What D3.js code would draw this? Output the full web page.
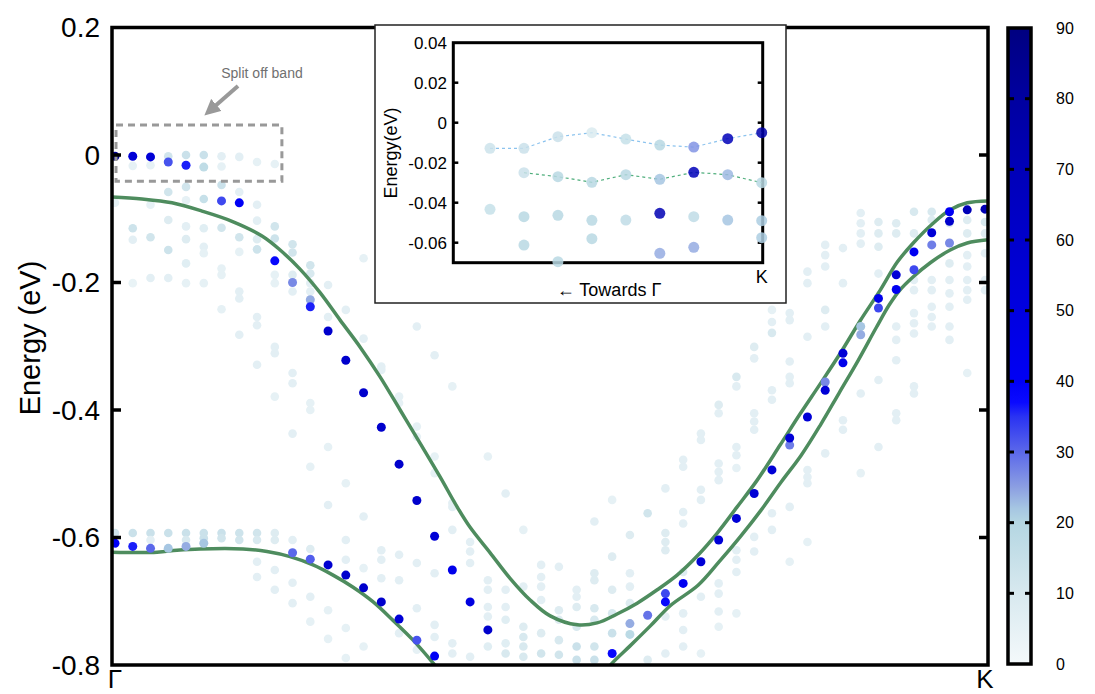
<!DOCTYPE html>
<html>
<head>
<meta charset="utf-8">
<script src="https://cdn.jsdelivr.net/npm/d3@7/dist/d3.min.js"></script>
<style>
  body { margin: 0; background: #fff; }
  svg { display: block; font-family: "Liberation Sans", Arial, Helvetica, sans-serif; }
</style>
</head>
<body>
<script>
//tick labels
var yTicks = [0.2, 0, -0.2, -0.4, -0.6, -0.8];
var yTickLabels = ["0.2", "0", "-0.2", "-0.4", "-0.6", "-0.8"];
var kPoints = [0, 49];
var kLabels = ["\u0393", "K"];
var weightTicks = [0, 10, 20, 30, 40, 50, 60, 70, 80, 90];

//colour map stops: weight -> colour
var cStops = [0, 10, 20, 22, 25, 30, 35, 37, 40, 50, 60, 70, 80, 90];
var cColors = ["#f4f9fb", "#d8e9ef", "#b4d6e2", "#a6c6e2", "#8c9fe2", "#5b68ea", "#2a33f2",
               "#0a0aff", "#0000f5", "#0000e0", "#0000cc", "#0000b8", "#0000a0", "#000080"];

// dots are [k index, energy (eV), weight]
var splitOffDots = [
  [0, -0.002, 85], [1, -0.002, 55], [2, -0.003, 55], [3, -0.011, 32], [4, -0.016, 36], [5, -0.019, 17]
];

var lightHoleDots = [
  [6, -0.072, 33], [7, -0.075, 40], [9, -0.166, 38], [10, -0.200, 27], [11, -0.227, 24], [11, -0.238, 36],
  [12, -0.276, 60], [13, -0.322, 60], [14, -0.373, 60], [15, -0.427, 60], [16, -0.485, 60], [17, -0.542, 60],
  [18, -0.598, 55], [19, -0.651, 45], [20, -0.701, 50], [21, -0.745, 60]
];

var heavyHoleDots = [
  [0, -0.609, 40], [1, -0.614, 36], [2, -0.617, 30], [3, -0.617, 22], [4, -0.614, 24], [5, -0.609, 22],
  [10, -0.624, 30], [11, -0.634, 31], [12, -0.643, 58], [13, -0.659, 60], [14, -0.679, 60], [15, -0.701, 60],
  [16, -0.728, 55], [17, -0.761, 32], [18, -0.786, 40]
];

var rightBandDots = [
  [28, -0.782, 38], [29, -0.735, 24], [29, -0.752, 18], [30, -0.722, 29], [31, -0.688, 33], [31, -0.701, 38],
  [32, -0.672, 42], [33, -0.638, 55], [34, -0.604, 55], [35, -0.570, 55], [36, -0.531, 55], [37, -0.494, 55],
  [38, -0.444, 55], [38, -0.455, 28], [39, -0.411, 55], [40, -0.356, 27], [40, -0.369, 55], [41, -0.311, 55],
  [41, -0.326, 45], [42, -0.269, 22], [42, -0.282, 24], [43, -0.225, 45], [43, -0.240, 33], [44, -0.188, 55],
  [44, -0.211, 42], [45, -0.152, 42], [45, -0.180, 33], [46, -0.122, 55], [46, -0.141, 28], [47, -0.089, 40],
  [47, -0.104, 60], [47, -0.138, 27], [48, -0.086, 70], [49, -0.085, 72]
];

var faintDots = [
  [0, -0.075, 5], [0, -0.593, 12],
  [1, -0.017, 5], [1, -0.115, 13], [1, -0.133, 6], [1, -0.201, 4], [1, -0.593, 14],
  [2, -0.016, 5], [2, -0.078, 5], [2, -0.129, 12], [2, -0.193, 6], [2, -0.593, 14], [2, -0.604, 6],
  [3, -0.002, 12], [3, -0.058, 12], [3, -0.102, 8], [3, -0.149, 13], [3, -0.193, 6], [3, -0.593, 14],
  [4, 0.000, 14], [4, -0.050, 12], [4, -0.071, 5], [4, -0.112, 6], [4, -0.132, 8], [4, -0.170, 7], [4, -0.201, 5], [4, -0.593, 14], [4, -0.604, 10],
  [5, 0.000, 14], [5, -0.069, 15], [5, -0.115, 7], [5, -0.144, 6], [5, -0.154, 5], [5, -0.201, 5], [5, -0.593, 14], [5, -0.601, 14],
  [6, -0.002, 6], [6, -0.018, 5], [6, -0.047, 14], [6, -0.114, 12], [6, -0.178, 5], [6, -0.188, 5], [6, -0.242, 5], [6, -0.593, 14], [6, -0.601, 12],
  [7, -0.003, 6], [7, -0.058, 6], [7, -0.129, 12], [7, -0.152, 5], [7, -0.214, 6], [7, -0.225, 6], [7, -0.282, 6], [7, -0.593, 13], [7, -0.604, 12],
  [8, -0.011, 5], [8, -0.078, 6], [8, -0.103, 6], [8, -0.132, 8], [8, -0.148, 13], [8, -0.254, 6], [8, -0.267, 6], [8, -0.329, 6], [8, -0.593, 12], [8, -0.604, 10], [8, -0.638, 6], [8, -0.662, 6],
  [9, -0.014, 5], [9, -0.112, 12], [9, -0.131, 13], [9, -0.188, 5], [9, -0.201, 5], [9, -0.301, 6], [9, -0.311, 6], [9, -0.379, 5], [9, -0.593, 8], [9, -0.604, 8], [9, -0.651, 6], [9, -0.682, 6],
  [10, -0.140, 12], [10, -0.153, 12], [10, -0.188, 8], [10, -0.214, 6], [10, -0.342, 6], [10, -0.358, 6], [10, -0.437, 6], [10, -0.604, 6], [10, -0.671, 6], [10, -0.703, 6],
  [11, -0.173, 12], [11, -0.186, 10], [11, -0.201, 6], [11, -0.214, 6], [11, -0.389, 5], [11, -0.400, 5], [11, -0.489, 5], [11, -0.618, 8], [11, -0.693, 6], [11, -0.732, 5],
  [12, -0.204, 6], [12, -0.254, 6], [12, -0.458, 5], [12, -0.549, 6], [12, -0.714, 5], [12, -0.759, 5],
  [13, -0.243, 6], [13, -0.515, 5], [13, -0.604, 6], [13, -0.635, 6], [13, -0.742, 5], [13, -0.789, 5],
  [14, -0.162, 5], [14, -0.288, 6], [14, -0.567, 6], [14, -0.648, 5], [14, -0.771, 5],
  [15, -0.332, 6], [15, -0.337, 6], [15, -0.620, 6], [15, -0.635, 6], [15, -0.664, 6],
  [16, -0.222, 5], [16, -0.379, 5], [16, -0.389, 5], [16, -0.627, 6], [16, -0.667, 6], [16, -0.750, 6],
  [17, -0.269, 6], [17, -0.426, 5], [17, -0.442, 5], [17, -0.640, 6], [17, -0.711, 6], [17, -0.776, 5],
  [18, -0.314, 6], [18, -0.473, 5], [18, -0.499, 5], [18, -0.656, 6], [18, -0.737, 6], [18, -0.756, 6],
  [19, -0.363, 5], [19, -0.546, 6], [19, -0.552, 6], [19, -0.588, 6], [19, -0.766, 6], [19, -0.782, 6],
  [20, -0.607, 6], [20, -0.622, 6], [20, -0.640, 6], [20, -0.787, 6],
  [21, -0.473, 5], [21, -0.667, 6], [21, -0.682, 6], [21, -0.709, 6], [21, -0.724, 6], [21, -0.771, 7],
  [22, -0.531, 6], [22, -0.682, 6], [22, -0.709, 6], [22, -0.729, 7], [22, -0.766, 7], [22, -0.782, 10],
  [23, -0.588, 5], [23, -0.677, 6], [23, -0.740, 8], [23, -0.756, 10], [23, -0.771, 10], [23, -0.787, 10],
  [24, -0.643, 6], [24, -0.662, 6], [24, -0.677, 6], [24, -0.698, 6], [24, -0.750, 8], [24, -0.782, 12],
  [25, -0.646, 6], [25, -0.714, 8], [25, -0.729, 8], [25, -0.761, 10], [25, -0.784, 12],
  [26, -0.682, 6], [26, -0.693, 6], [26, -0.709, 8], [26, -0.740, 10], [26, -0.771, 14], [26, -0.792, 14],
  [27, -0.575, 6], [27, -0.656, 8], [27, -0.667, 8], [27, -0.711, 10], [27, -0.729, 10], [27, -0.771, 12], [27, -0.792, 14],
  [28, -0.541, 5], [28, -0.630, 8], [28, -0.682, 8], [28, -0.719, 10], [28, -0.750, 14],
  [29, -0.596, 8], [29, -0.656, 6], [29, -0.677, 6], [29, -0.703, 8],
  [30, -0.562, 12], [30, -0.792, 8],
  [31, -0.523, 6], [31, -0.593, 8], [31, -0.607, 8], [31, -0.620, 8], [31, -0.724, 6], [31, -0.782, 6],
  [32, -0.478, 6], [32, -0.489, 6], [32, -0.560, 6], [32, -0.578, 6], [32, -0.654, 8], [32, -0.719, 6], [32, -0.745, 6], [32, -0.771, 6],
  [33, -0.437, 6], [33, -0.447, 6], [33, -0.525, 6], [33, -0.541, 6], [33, -0.693, 6], [33, -0.782, 5],
  [34, -0.392, 8], [34, -0.405, 6], [34, -0.484, 6], [34, -0.497, 6], [34, -0.510, 6], [34, -0.672, 6], [34, -0.688, 6], [34, -0.716, 6], [34, -0.740, 5],
  [35, -0.348, 10], [35, -0.363, 6], [35, -0.458, 6], [35, -0.471, 6], [35, -0.491, 5], [35, -0.620, 6], [35, -0.635, 6], [35, -0.654, 6], [35, -0.719, 5],
  [36, -0.301, 8], [36, -0.319, 6], [36, -0.405, 6], [36, -0.418, 6], [36, -0.431, 6], [36, -0.599, 6], [36, -0.622, 6],
  [37, -0.243, 5], [37, -0.262, 6], [37, -0.279, 10], [37, -0.369, 6], [37, -0.384, 6], [37, -0.562, 6], [37, -0.588, 6],
  [38, -0.248, 6], [38, -0.259, 6], [38, -0.324, 6], [38, -0.348, 6], [38, -0.358, 6], [38, -0.552, 6], [38, -0.638, 5],
  [39, -0.183, 6], [39, -0.201, 6], [39, -0.285, 6], [39, -0.494, 6], [39, -0.505, 6], [39, -0.515, 6], [39, -0.607, 5],
  [40, -0.141, 6], [40, -0.157, 6], [40, -0.175, 6], [40, -0.243, 8], [40, -0.269, 6], [40, -0.468, 6],
  [41, -0.146, 6], [41, -0.201, 6], [41, -0.416, 6], [41, -0.431, 6],
  [42, -0.091, 6], [42, -0.107, 6], [42, -0.123, 6], [42, -0.139, 6], [42, -0.374, 6], [42, -0.499, 5],
  [43, -0.105, 8], [43, -0.123, 8], [43, -0.144, 8], [43, -0.186, 6], [43, -0.353, 6], [43, -0.458, 6],
  [44, -0.107, 8], [44, -0.123, 8], [44, -0.269, 6], [44, -0.290, 6], [44, -0.322, 6], [44, -0.405, 6], [44, -0.416, 6],
  [45, -0.089, 10], [45, -0.123, 8], [45, -0.196, 6], [45, -0.212, 6], [45, -0.248, 6], [45, -0.264, 6], [45, -0.280, 6], [45, -0.363, 6], [45, -0.374, 6],
  [46, -0.089, 10], [46, -0.102, 8], [46, -0.196, 6], [46, -0.212, 6], [46, -0.238, 6], [46, -0.254, 6], [46, -0.269, 6],
  [47, -0.107, 8], [47, -0.170, 8], [47, -0.196, 6], [47, -0.217, 6], [47, -0.238, 6], [47, -0.269, 6], [47, -0.290, 6],
  [48, -0.102, 8], [48, -0.123, 8], [48, -0.157, 6], [48, -0.175, 6], [48, -0.196, 6], [48, -0.212, 6], [48, -0.227, 6], [48, -0.342, 5],
  [49, -0.105, 10], [49, -0.123, 8], [49, -0.154, 6], [49, -0.196, 6], [49, -0.212, 6]
];

// green model curves, [k, energy]
var upperCurve = [
  [-0.17, -0.066], [1.52, -0.069], [3.21, -0.075], [4.90, -0.088], [6.59, -0.104], [8.28, -0.127],
  [9.30, -0.149], [10.42, -0.179], [11.55, -0.216], [12.68, -0.259], [13.80, -0.301], [14.93, -0.348],
  [16.06, -0.400], [17.18, -0.452], [18.31, -0.505], [19.27, -0.552], [20.0, -0.584], [21.13, -0.624],
  [22.25, -0.664], [23.38, -0.698], [24.51, -0.723], [26.03, -0.737], [27.15, -0.734], [28.28, -0.720],
  [29.41, -0.703], [30.54, -0.682], [31.66, -0.659], [32.79, -0.629], [33.92, -0.593], [35.04, -0.552],
  [36.17, -0.510], [37.46, -0.455], [38.59, -0.406], [39.72, -0.359], [40.85, -0.311], [41.97, -0.260],
  [43.10, -0.212], [44.06, -0.168], [44.96, -0.138], [46.08, -0.107], [47.04, -0.086], [48.0, -0.075], [49.18, -0.072]
];

var heavyHoleCurve = [
  [-0.17, -0.623], [2.37, -0.623], [3.49, -0.620], [4.79, -0.618], [7.21, -0.618], [8.56, -0.622],
  [9.86, -0.630], [11.15, -0.643], [12.28, -0.659], [13.41, -0.678], [14.54, -0.701], [15.66, -0.730],
  [16.79, -0.761], [17.92, -0.797], [18.59, -0.820]
];

var lowerRightCurve = [
  [27.32, -0.820], [28.0, -0.797], [29.01, -0.770], [30.14, -0.739], [31.27, -0.707], [32.84, -0.675],
  [34.03, -0.638], [35.21, -0.599], [36.39, -0.557], [37.52, -0.513], [38.65, -0.471], [39.72, -0.424],
  [40.79, -0.373], [41.86, -0.322], [42.87, -0.271], [43.61, -0.235], [44.17, -0.213], [44.96, -0.191],
  [45.92, -0.169], [47.04, -0.149], [48.0, -0.138], [49.18, -0.133]
];

// inset: points near K, index 0..8 (8 = K)
var insetYTicks = [0.04, 0.02, 0, -0.02, -0.04, -0.06];
var insetYTickLabels = ["0.04", "0.02", "0", "-0.02", "-0.04", "-0.06"];
var insetRow1E = [-0.0128, -0.0128, -0.0070, -0.0050, -0.0082, -0.0112, -0.0122, -0.0080, -0.0050];
var insetRow1W = [13, 14, 14, 9, 15, 19, 26, 70, 75];
var insetRow2K = [1, 2, 3, 4, 5, 6, 7, 8];
var insetRow2E = [-0.0250, -0.0270, -0.0298, -0.0260, -0.0283, -0.0248, -0.0260, -0.0300];
var insetRow2W = [14, 19, 19, 19, 22, 70, 23, 19];
var insetRow3E = [-0.0433, -0.0470, -0.0463, -0.0488, -0.0487, -0.0453, -0.0470, -0.0487, -0.0490];
var insetRow3W = [15, 19, 19, 19, 17, 72, 17, 22, 21];
var insetRow4K = [1, 2, 3, 5, 6, 8];
var insetRow4E = [-0.0612, -0.0695, -0.0580, -0.0653, -0.0623, -0.0575];
var insetRow4W = [19, 19, 19, 24, 24, 21];

var W = 1095, H = 694;
var frame = { left: 112, right: 988, top: 27.5, bottom: 665 };

var svg = d3.select("body").append("svg")
    .attr("width", W)
    .attr("height", H);

var x = d3.scaleLinear().domain([0, 49]).range([frame.left + 3, frame.right - 3]);
var y = d3.scaleLinear().domain([-0.8, 0.2]).range([frame.bottom, frame.top]);
var color = d3.scaleLinear().domain(cStops).range(cColors).interpolate(d3.interpolateRgb);

svg.append("defs").append("clipPath")
    .attr("id", "plotClip")
  .append("rect")
    .attr("x", frame.left)
    .attr("y", frame.top)
    .attr("width", frame.right - frame.left)
    .attr("height", frame.bottom - frame.top);

var plot = svg.append("g").attr("clip-path", "url(#plotClip)");

//faint dots first, strong ones on top
plot.append("g").selectAll("circle")
  .data(faintDots)
  .enter().append("circle")
    .attr("cx", function (d) { return x(d[0]); })
    .attr("cy", function (d) { return y(d[1]); })
    .attr("r", 4.3)
    .style("fill", function (d) { return color(d[2]); });

var line = d3.line()
    .x(function (d) { return x(d[0]); })
    .y(function (d) { return y(d[1]); })
    .curve(d3.curveCatmullRom.alpha(0.5));

[upperCurve, heavyHoleCurve, lowerRightCurve].forEach(function (c) {
  plot.append("path")
    .datum(c)
    .attr("d", line)
    .style("fill", "none")
    .style("stroke", "#4e8c5e")
    .style("stroke-width", 3.5);
});

var strong = splitOffDots.concat(lightHoleDots, heavyHoleDots, rightBandDots)
    .sort(function (a, b) { return a[2] - b[2]; });

plot.append("g").selectAll("circle")
  .data(strong)
  .enter().append("circle")
    .attr("cx", function (d) { return x(d[0]); })
    .attr("cy", function (d) { return y(d[1]); })
    .attr("r", 4.5)
    .style("fill", function (d) { return color(d[2]); });

// split off band annotation
svg.append("rect")
    .attr("x", x(0) + 1)
    .attr("y", y(0.047))
    .attr("width", x(9.4) - x(0) - 1)
    .attr("height", y(-0.041) - y(0.047))
    .style("fill", "none")
    .style("stroke", "#999")
    .style("stroke-width", 3)
    .style("stroke-dasharray", "7,5");

svg.append("defs").append("marker")
    .attr("id", "arrowHead")
    .attr("viewBox", "0 0 10 10")
    .attr("refX", 2)
    .attr("refY", 5)
    .attr("markerWidth", 4)
    .attr("markerHeight", 4)
    .attr("orient", "auto")
  .append("path")
    .attr("d", "M0,0 L10,5 L0,10 z")
    .style("fill", "#999");

svg.append("line")
    .attr("x1", 238).attr("y1", 86)
    .attr("x2", 214).attr("y2", 107)
    .style("stroke", "#999")
    .style("stroke-width", 4)
    .attr("marker-end", "url(#arrowHead)");

svg.append("text")
    .attr("x", 262)
    .attr("y", 78)
    .attr("text-anchor", "middle")
    .style("font-size", "14px")
    .style("fill", "#707070")
    .text("Split off band");

// frame and ticks
svg.append("rect")
    .attr("x", frame.left)
    .attr("y", frame.top)
    .attr("width", frame.right - frame.left)
    .attr("height", frame.bottom - frame.top)
    .style("fill", "none")
    .style("stroke", "#000")
    .style("stroke-width", 3.5);

svg.append("g").selectAll("line")
  .data(yTicks.slice(1, -1))
  .enter().append("line")
    .attr("x1", frame.left).attr("x2", frame.left + 9)
    .attr("y1", function (d) { return y(d); })
    .attr("y2", function (d) { return y(d); })
    .style("stroke", "#000").style("stroke-width", 3.5);

svg.append("g").selectAll("line")
  .data(yTicks.slice(1, -1))
  .enter().append("line")
    .attr("x1", frame.right).attr("x2", frame.right - 9)
    .attr("y1", function (d) { return y(d); })
    .attr("y2", function (d) { return y(d); })
    .style("stroke", "#000").style("stroke-width", 3.5);

svg.append("g").selectAll("text")
  .data(yTicks)
  .enter().append("text")
    .attr("x", 100)
    .attr("y", function (d) { return y(d); })
    .attr("dy", "0.35em")
    .attr("text-anchor", "end")
    .style("font-size", "28px")
    .text(function (d, i) { return yTickLabels[i]; });

svg.append("g").selectAll("text")
  .data(kPoints)
  .enter().append("text")
    .attr("x", function (d) { return x(d); })
    .attr("y", 688)
    .attr("text-anchor", "middle")
    .style("font-size", "26px")
    .text(function (d, i) { return kLabels[i]; });

svg.append("text")
    .attr("transform", "translate(40," + 338 + ") rotate(-90)")
    .attr("text-anchor", "middle")
    .style("font-size", "29px")
    .text("Energy (eV)");

// colorbar
var cb = { x: 1008, y: 28, w: 23, h: 636 };
var cbY = d3.scaleLinear().domain([0, 90]).range([cb.y + cb.h, cb.y]);

var grad = svg.append("defs").append("linearGradient")
    .attr("id", "cbGrad")
    .attr("x1", 0).attr("y1", 1)
    .attr("x2", 0).attr("y2", 0);

grad.selectAll("stop")
  .data(cStops)
  .enter().append("stop")
    .attr("offset", function (d) { return d / 90; })
    .attr("stop-color", function (d, i) { return cColors[i]; });

svg.append("rect")
    .attr("x", cb.x).attr("y", cb.y)
    .attr("width", cb.w).attr("height", cb.h)
    .style("fill", "url(#cbGrad)")
    .style("stroke", "#000")
    .style("stroke-width", 3.5);

var cbInner = weightTicks.slice(1, -1);
svg.append("g").selectAll("line")
  .data(cbInner)
  .enter().append("line")
    .attr("x1", cb.x).attr("x2", cb.x + 6)
    .attr("y1", function (d) { return cbY(d); })
    .attr("y2", function (d) { return cbY(d); })
    .style("stroke", "#000").style("stroke-width", 3);

svg.append("g").selectAll("line")
  .data(cbInner)
  .enter().append("line")
    .attr("x1", cb.x + cb.w).attr("x2", cb.x + cb.w - 6)
    .attr("y1", function (d) { return cbY(d); })
    .attr("y2", function (d) { return cbY(d); })
    .style("stroke", "#000").style("stroke-width", 3);

svg.append("g").selectAll("text")
  .data(weightTicks)
  .enter().append("text")
    .attr("x", 1056)
    .attr("y", function (d) { return cbY(d); })
    .attr("dy", "0.35em")
    .style("font-size", "16px")
    .text(function (d) { return d; });

// inset
svg.append("rect")
    .attr("x", 375).attr("y", 25)
    .attr("width", 411).attr("height", 278)
    .style("fill", "#fff")
    .style("stroke", "#222")
    .style("stroke-width", 1.5);

var inFrame = { left: 453.3, right: 762.7, top: 42.7, bottom: 262.7 };
var xi = d3.scaleLinear().domain([0, 8]).range([490, 761.7]);
var yi = d3.scaleLinear().domain([-0.07, 0.04]).range([inFrame.bottom, inFrame.top]);

var inset = svg.append("g");

inset.append("rect")
    .attr("x", inFrame.left).attr("y", inFrame.top)
    .attr("width", inFrame.right - inFrame.left)
    .attr("height", inFrame.bottom - inFrame.top)
    .style("fill", "none")
    .style("stroke", "#000")
    .style("stroke-width", 3);

inset.append("g").selectAll("line")
  .data(insetYTicks.slice(1))
  .enter().append("line")
    .attr("x1", inFrame.left).attr("x2", inFrame.left + 5)
    .attr("y1", function (d) { return yi(d); })
    .attr("y2", function (d) { return yi(d); })
    .style("stroke", "#000").style("stroke-width", 2.5);

inset.append("g").selectAll("line")
  .data(insetYTicks.slice(1))
  .enter().append("line")
    .attr("x1", inFrame.right).attr("x2", inFrame.right - 5)
    .attr("y1", function (d) { return yi(d); })
    .attr("y2", function (d) { return yi(d); })
    .style("stroke", "#000").style("stroke-width", 2.5);

inset.append("g").selectAll("text")
  .data(insetYTicks)
  .enter().append("text")
    .attr("x", 447)
    .attr("y", function (d) { return yi(d); })
    .attr("dy", "0.35em")
    .attr("text-anchor", "end")
    .style("font-size", "17px")
    .text(function (d, i) { return insetYTickLabels[i]; });

inset.append("text")
    .attr("transform", "translate(397,153) rotate(-90)")
    .attr("text-anchor", "middle")
    .style("font-size", "18px")
    .text("Energy(eV)");

inset.append("text")
    .attr("x", xi(8))
    .attr("y", 283)
    .attr("text-anchor", "middle")
    .style("font-size", "18px")
    .text("K");

inset.append("text")
    .attr("x", 609)
    .attr("y", 296)
    .attr("text-anchor", "middle")
    .style("font-size", "18px")
    .text("\u2190 Towards \u0393");

var row1 = insetRow1E.map(function (e, i) { return { k: i, e: e, w: insetRow1W[i] }; });
var row2 = insetRow2E.map(function (e, i) { return { k: insetRow2K[i], e: e, w: insetRow2W[i] }; });
var row3 = insetRow3E.map(function (e, i) { return { k: i, e: e, w: insetRow3W[i] }; });
var row4 = insetRow4E.map(function (e, i) { return { k: insetRow4K[i], e: e, w: insetRow4W[i] }; });

var insetLine = d3.line()
    .x(function (d) { return xi(d.k); })
    .y(function (d) { return yi(d.e); });

inset.append("path")
    .datum(row1)
    .attr("d", insetLine)
    .style("fill", "none")
    .style("stroke", "#8cc3ee")
    .style("stroke-width", 1.2)
    .style("stroke-dasharray", "3,3");

inset.append("path")
    .datum(row2)
    .attr("d", insetLine)
    .style("fill", "none")
    .style("stroke", "#4fae7c")
    .style("stroke-width", 1.2)
    .style("stroke-dasharray", "3,3");

inset.append("g").selectAll("circle")
  .data(row1.concat(row2, row3, row4))
  .enter().append("circle")
    .attr("cx", function (d) { return xi(d.k); })
    .attr("cy", function (d) { return yi(d.e); })
    .attr("r", 5.5)
    .style("fill", function (d) { return color(d.w); })
    .style("fill-opacity", 0.85);
</script>
</body>
</html>
